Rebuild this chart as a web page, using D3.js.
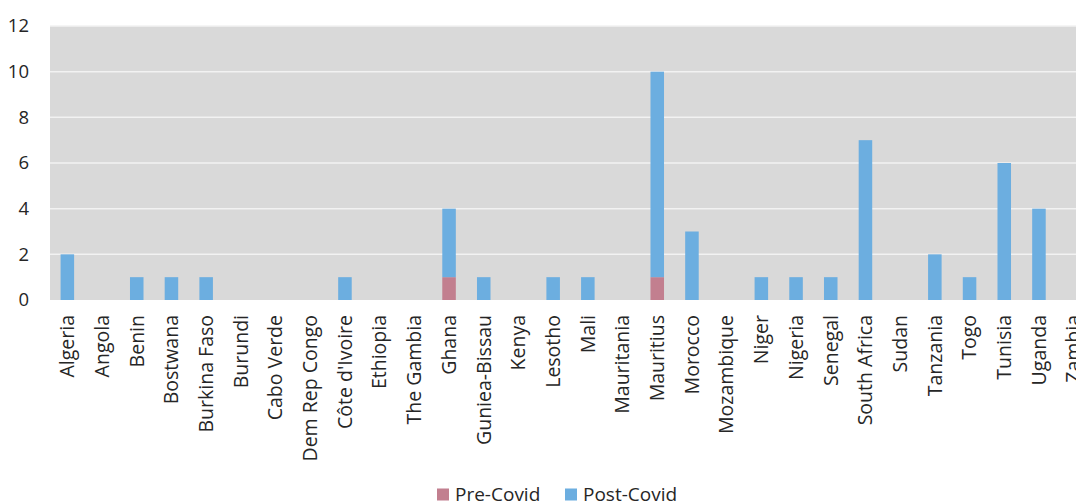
<!DOCTYPE html>
<html>
<head>
<meta charset="utf-8">
<script src="https://cdn.jsdelivr.net/npm/d3@7"></script>
<style>
  html, body { margin: 0; padding: 0; background: #ffffff; }
  svg { display: block; }
  text { font-family: "Open Sans", "Noto Sans", sans-serif; fill: #262626; }
</style>
</head>
<body>
<svg id="chart" width="1076" height="502"></svg>
<script>
// Countries shown along the horizontal axis
const countries = [
  "Algeria", "Angola", "Benin", "Bostwana", "Burkina Faso", "Burundi",
  "Cabo Verde", "Dem Rep Congo", "Côte d'Ivoire", "Ethiopia", "The Gambia",
  "Ghana", "Guniea-Bissau", "Kenya", "Lesotho", "Mali", "Mauritania",
  "Mauritius", "Morocco", "Mozambique", "Niger", "Nigeria", "Senegal",
  "South Africa", "Sudan", "Tanzania", "Togo", "Tunisia", "Uganda", "Zambia"
];

// Counts per country, stacked: pre-Covid at the bottom, post-Covid on top
const preCovid = [
  0, 0, 0, 0, 0, 0, 0, 0, 0, 0, 0,
  1, 0, 0, 0, 0, 0,
  1, 0, 0, 0, 0, 0,
  0, 0, 0, 0, 0, 0, 0
];
const postCovid = [
  2, 0, 1, 1, 1, 0, 0, 0, 1, 0, 0,
  3, 1, 0, 1, 1, 0,
  9, 3, 0, 1, 1, 1,
  7, 0, 2, 1, 6, 4, 0
];

const seriesNames = ["Pre-Covid", "Post-Covid"];
const seriesColors = ["#c27f8f", "#6caee0"];
const yTicks = [0, 2, 4, 6, 8, 10, 12];

const svg = d3.select("#chart");

const plotLeft = 50, plotTop = 26, plotBottom = 300;
const step = 34.7;
const plotRight = plotLeft + step * countries.length;

const x = d3.scaleBand()
  .domain(countries)
  .range([plotLeft, plotRight])
  .paddingInner(0.61)
  .paddingOuter(0.305);

const y = d3.scaleLinear()
  .domain([0, 12])
  .range([plotBottom, plotTop]);

// Plot background
svg.append("rect")
  .attr("x", plotLeft)
  .attr("y", plotTop)
  .attr("width", plotRight - plotLeft)
  .attr("height", plotBottom - plotTop)
  .attr("fill", "#d9d9d9");

// Horizontal gridlines
svg.append("g")
  .selectAll("line")
  .data(yTicks.filter(d => d > 0))
  .join("line")
  .attr("x1", plotLeft)
  .attr("x2", plotRight)
  .attr("y1", d => y(d))
  .attr("y2", d => y(d))
  .attr("stroke", "#f2f2f2")
  .attr("stroke-width", 1.5);

// Stacked bars
const rows = countries.map((c, i) => ({ country: c, "Pre-Covid": preCovid[i], "Post-Covid": postCovid[i] }));
const stacked = d3.stack().keys(seriesNames)(rows);

svg.append("g")
  .selectAll("g")
  .data(stacked)
  .join("g")
  .attr("fill", (d, i) => seriesColors[i])
  .selectAll("rect")
  .data(d => d.filter(p => p[1] > p[0]))
  .join("rect")
  .attr("x", d => x(d.data.country))
  .attr("width", x.bandwidth())
  .attr("y", d => y(d[1]))
  .attr("height", d => y(d[0]) - y(d[1]));

// Y axis (labels only)
const yAxis = d3.axisLeft(y).tickValues(yTicks).tickSize(0).tickPadding(0);
const yG = svg.append("g")
  .attr("transform", "translate(29,0)")
  .call(yAxis);
yG.select(".domain").remove();
yG.selectAll("text")
  .attr("font-size", 18.5)
  .attr("font-family", "'Open Sans', 'Noto Sans', sans-serif")
  .attr("fill", "#262626");

// X axis (rotated country labels)
const xAxis = d3.axisBottom(x).tickSize(0).tickPadding(0);
const xG = svg.append("g")
  .attr("transform", `translate(0,${plotBottom})`)
  .call(xAxis);
xG.select(".domain").remove();
xG.selectAll("text")
  .attr("font-size", 19.5)
  .attr("font-family", "'Open Sans', 'Noto Sans', sans-serif")
  .attr("fill", "#262626")
  .attr("transform", "rotate(-90)")
  .attr("x", -15)
  .attr("y", 0)
  .attr("dy", "0.35em")
  .attr("text-anchor", "end");

// Legend
const legend = svg.append("g").attr("transform", "translate(0,494.5)");
const legendItems = [
  { name: seriesNames[0], color: seriesColors[0], x: 437 },
  { name: seriesNames[1], color: seriesColors[1], x: 565 }
];
const li = legend.selectAll("g")
  .data(legendItems)
  .join("g")
  .attr("transform", d => `translate(${d.x},0)`);
li.append("rect")
  .attr("x", 0)
  .attr("y", -6)
  .attr("width", 12)
  .attr("height", 12)
  .attr("fill", d => d.color);
li.append("text")
  .attr("x", 18)
  .attr("y", 0)
  .attr("dy", "0.35em")
  .attr("font-size", 19)
  .text(d => d.name);
</script>
</body>
</html>
